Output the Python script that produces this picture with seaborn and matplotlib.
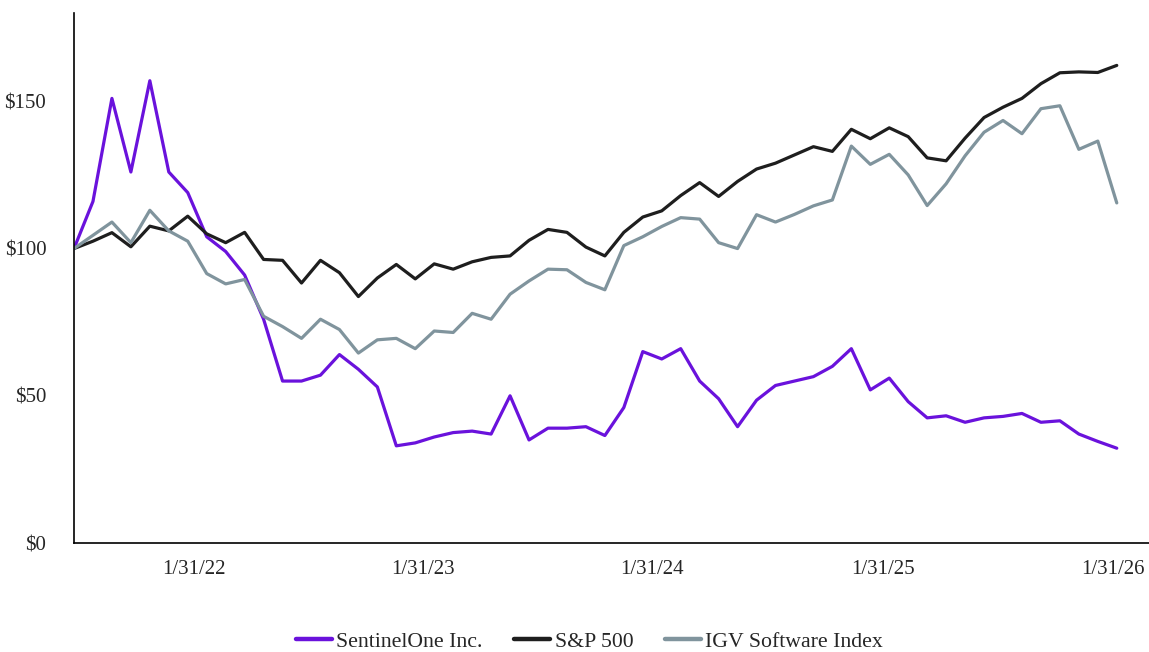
import pandas as pd
import matplotlib
matplotlib.use("Agg")
import matplotlib.pyplot as plt
import seaborn as sns

# monthly points, 6/30/21 .. 1/31/26
months = pd.date_range("2021-06-30", "2026-01-31", freq="ME")

sentinelone = [100, 116, 151, 126, 157, 126, 119, 104, 99, 91,
               76, 55, 55, 57, 64, 59, 53, 33, 34, 36,
               37.5, 38, 37, 50, 35, 39, 39, 39.5, 36.5, 46,
               65, 62.5, 66, 55, 49, 39.5, 48.5, 53.5, 55, 56.5,
               60, 66, 52, 56, 48, 42.5, 43.2, 41, 42.5, 43,
               44, 41, 41.5, 37, 34.5, 32.2]

sp500 = [100, 102.5, 105.4, 100.6, 107.6, 106, 111, 105, 102, 105.5,
         96.3, 96, 88.3, 96, 91.8, 83.7, 90, 94.6, 89.7, 94.8,
         93, 95.5, 97, 97.5, 102.8, 106.5, 105.5, 100.5, 97.5, 105.5,
         110.7, 112.8, 118, 122.4, 117.7, 122.8, 127, 129, 131.8, 134.6,
         133, 140.5, 137.3, 141, 138, 130.8, 129.8, 137.5, 144.5, 148,
         151, 156, 159.7, 160, 159.8, 162.2]

igv = [100, 104.5, 109, 102, 113, 106, 102.5, 91.5, 88, 89.5,
       77, 73.5, 69.5, 76, 72.5, 64.5, 69, 69.5, 66, 72,
       71.5, 78, 76, 84.5, 89, 93, 92.8, 88.5, 86, 101,
       104, 107.5, 110.5, 110, 102, 100, 111.5, 109, 111.6, 114.5,
       116.5, 134.8, 128.6, 132, 125, 114.6, 122, 131.5, 139.5, 143.5,
       139, 147.5, 148.5, 133.7, 136.5, 115.5]

series_names = ["SentinelOne Inc.", "S&P 500", "IGV Software Index"]
colors = ["#6A12DC", "#1E1E1E", "#80949D"]

tick_labels = ["1/31/22", "1/31/23", "1/31/24", "1/31/25", "1/31/26"]
tick_pos = [6.3, 18.4, 30.5, 42.65, 54.8]
y_ticks = [0, 50, 100, 150]

df = pd.DataFrame({
    "month": list(range(len(months))) * 3,
    "value": sentinelone + sp500 + igv,
    "series": [n for n in series_names for _ in months],
})

sns.set_style("white")
plt.rcParams["font.family"] = ["Liberation Serif", "DejaVu Serif"]

fig = plt.figure(figsize=(11.49, 6.52), dpi=100)
ax = fig.add_axes([74 / 1149, 109 / 652, 1075 / 1149, 530 / 652])

sns.lineplot(data=df, x="month", y="value", hue="series",
             palette=dict(zip(series_names, colors)), hue_order=series_names,
             linewidth=2.3, ax=ax, legend=False)

ax.set_xlim(0, 56.7)
ax.set_ylim(0, 180)
ax.set_xticks(tick_pos)
ax.set_xticklabels(tick_labels)
ax.set_yticks(y_ticks)
ax.set_yticklabels([f"${v}" for v in y_ticks])
ax.set_xlabel("")
ax.set_ylabel("")
ax.tick_params(axis="x", length=0, pad=12, labelsize=15)
ax.tick_params(axis="y", length=0, pad=20, labelsize=15)
for side in ["top", "right"]:
    ax.spines[side].set_visible(False)
for side in ["left", "bottom"]:
    ax.spines[side].set_color("black")
    ax.spines[side].set_linewidth(1.2)

handles = [plt.Line2D([], [], color=c, linewidth=3.2) for c in colors]
fig.legend(handles, series_names, loc="center", ncol=3,
           bbox_to_anchor=(0.513, 0.016), frameon=False, fontsize=15.7,
           handlelength=1.65, handletextpad=0.2, columnspacing=1.45)

fig.savefig("out.png", dpi=100)
